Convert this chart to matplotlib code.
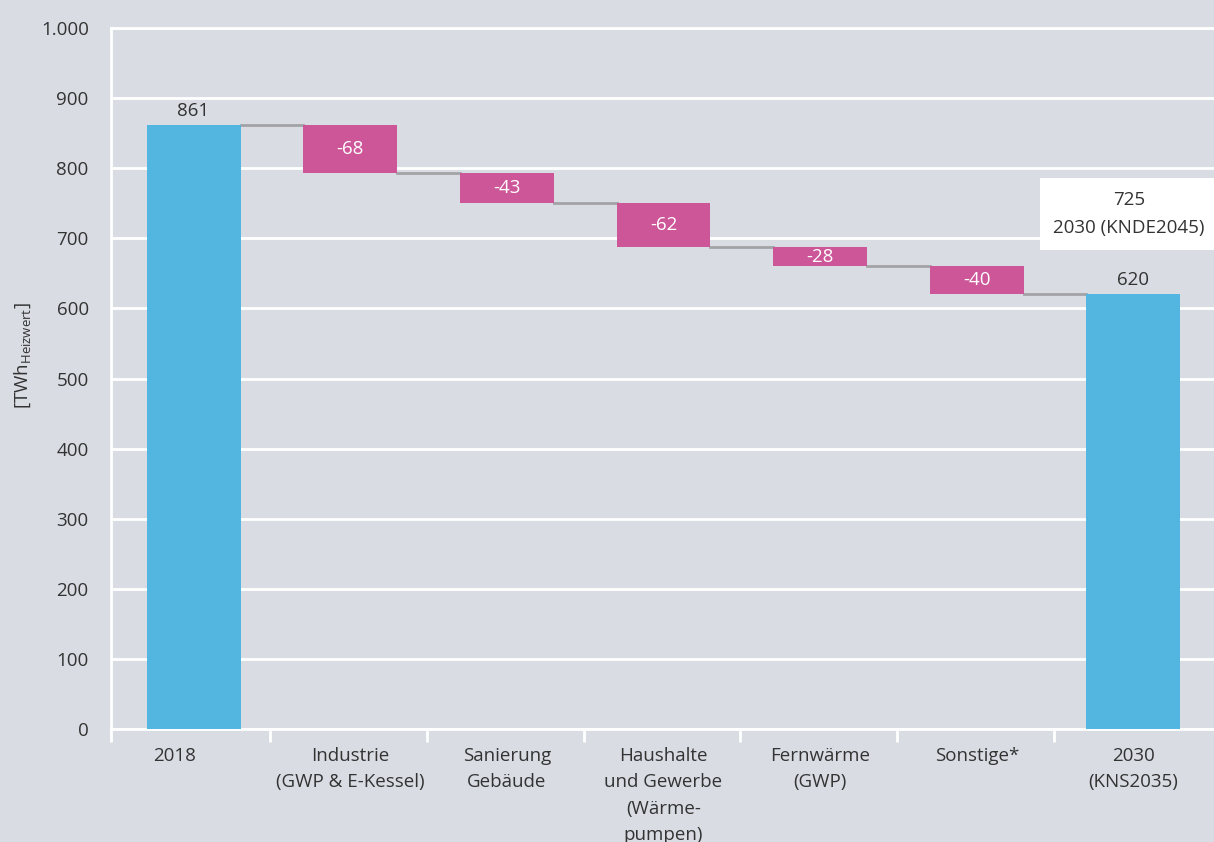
import matplotlib.pyplot as plt
import matplotlib.transforms as mtransforms
import numpy as np

plt.rcParams['font.family'] = ['Open Sans', 'DejaVu Sans']

categories = ['2018', 'Industrie\n(GWP & E-Kessel)', 'Sanierung\nGebäude',
              'Haushalte\nund Gewerbe\n(Wärme-\npumpen)', 'Fernwärme\n(GWP)',
              'Sonstige*', '2030\n(KNS2035)']
start_value = 861
changes = [-68, -43, -62, -28, -40]
end_value = 620
alt_value = 725
alt_label = '2030 (KNDE2045)'

blue = '#53B6E1'
pink = '#CD5699'
bg = '#D9DCE3'
text_col = '#333333'
fs = 13.5

fig = plt.figure(figsize=(12.14, 8.42), dpi=100, facecolor=bg)
ax = fig.add_axes([0.0914, 0.1342, 0.9086, 0.8325], facecolor=bg)

x = np.arange(len(categories))
w = 0.6

# start bar
ax.bar(x[0], start_value, width=w, color=blue, zorder=3)
ax.text(x[0], start_value + 8, str(start_value), ha='center', va='bottom',
        fontsize=fs, color=text_col, zorder=4)

level = start_value
for i, c in enumerate(changes, start=1):
    new = level + c
    ax.bar(x[i], c, bottom=level, width=w, color=pink, zorder=3)
    ax.text(x[i], level + c / 2, str(c), ha='center', va='center',
            fontsize=fs, color='white', zorder=4)
    ax.plot([x[i - 1] + w / 2, x[i] - w / 2], [level, level],
            color='#A3A3A6', lw=2, zorder=2)
    level = new

ax.plot([x[-2] + w / 2, x[-1] - w / 2], [level, level],
        color='#A3A3A6', lw=2, zorder=2)
ax.bar(x[-1], end_value, width=w, color=blue, zorder=3)
ax.text(x[-1], end_value + 8, str(end_value), ha='center', va='bottom',
        fontsize=fs, color=text_col, zorder=4)

# box with alternative scenario
ax.text(x[-1] - 0.03, alt_value + 10, f'{alt_value}\n{alt_label}', ha='center', va='center',
        fontsize=fs, color=text_col, linespacing=1.75, zorder=5, clip_on=False,
        bbox=dict(boxstyle='square,pad=0.68', fc='white', ec='none'))

xl = -0.527
ax.set_xlim(xl, 6.514)
ax.set_ylim(0, 1000)
ax.set_yticks(np.arange(0, 1001, 100))
ax.set_yticklabels([f'{v:,}'.replace(',', '.') for v in range(0, 1001, 100)])
ax.yaxis.grid(True, color='white', lw=2, zorder=0)
ax.set_axisbelow(True)

ax.set_xticks(x)
ax.set_xticklabels(categories, fontsize=fs, color=text_col, linespacing=1.6)
ax.set_xticks([xl] + list(np.arange(0.49, len(categories) - 1, 1)), minor=True)
ax.tick_params(axis='x', which='major', length=0, pad=13)
ax.tick_params(axis='x', which='minor', length=9, width=2, color='white')
ax.tick_params(axis='y', length=0, labelsize=fs, labelcolor=text_col, pad=16)

# first label sits a little left of its bar in the original
lab0 = ax.get_xticklabels()[0]
lab0.set_transform(lab0.get_transform() +
                   mtransforms.ScaledTranslation(-0.19, 0, fig.dpi_scale_trans))

ax.spines['right'].set_visible(False)
for s in ['left', 'bottom', 'top']:
    ax.spines[s].set_color('white')
    ax.spines[s].set_linewidth(2)

ax.set_ylabel(r'[TWh$_{\mathregular{Heizwert}}$]', fontsize=fs, color=text_col)
ax.yaxis.set_label_coords(-0.071, 0.533)

fig.savefig('out.png', dpi=100, facecolor=bg)
